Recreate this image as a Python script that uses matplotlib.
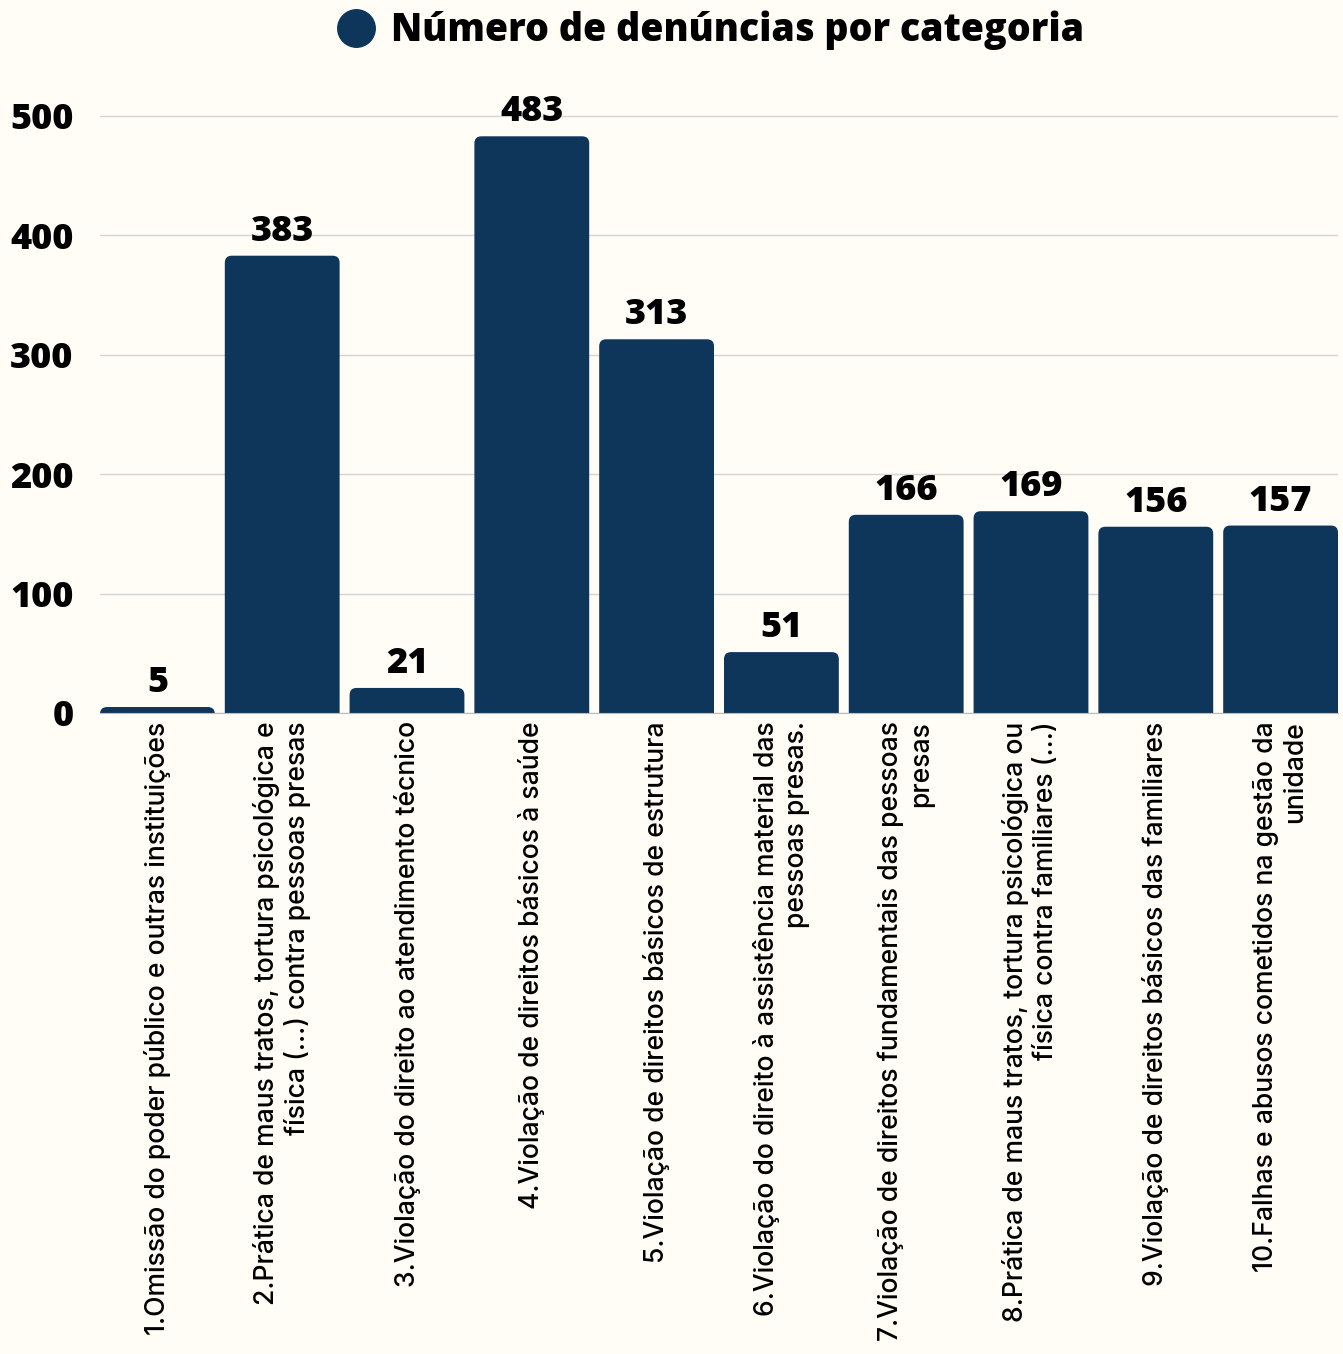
import matplotlib
matplotlib.use("Agg")
import matplotlib.pyplot as plt
from matplotlib.lines import Line2D
from matplotlib.patches import FancyBboxPatch

categories = [
    "1.Omissão do poder público e outras instituições",
    "2.Prática de maus tratos, tortura psicológica e\nfísica (...) contra pessoas presas",
    "3.Violação do direito ao atendimento técnico",
    "4.Violação de direitos básicos à saúde",
    "5.Violação de direitos básicos de estrutura",
    "6.Violação do direito à assistência material das\npessoas presas.",
    "7.Violação de direitos fundamentais das pessoas\npresas",
    "8.Prática de maus tratos, tortura psicológica ou\nfísica contra familiares (...)",
    "9.Violação de direitos básicos das familiares",
    "10.Falhas e abusos cometidos na gestão da\nunidade",
]
denuncias = [5, 383, 21, 483, 313, 51, 166, 169, 156, 157]
yticks = [0, 100, 200, 300, 400, 500]
series_name = "Número de denúncias por categoria"

bg = "#FFFDF6"
navy = "#0E365B"
bold_font = ["Open Sans", "DejaVu Sans"]
label_font = ["Inter", "DejaVu Sans"]
heavy = 800

W, H = 1343, 1354
fig = plt.figure(figsize=(W / 100, H / 100), dpi=100, facecolor=bg)
ax = fig.add_axes([100 / W, 1 - 713 / H, 1238 / W, 613 / H], facecolor=bg)

x = list(range(len(categories)))
ax.set_xlim(-0.46, len(categories) - 0.54)
ax.set_ylim(0, 513.4)

bars = ax.bar(x, denuncias, width=0.92, color=navy)

# swap plain rectangles for ones with slightly rounded tops
xpx = 1238 / (ax.get_xlim()[1] - ax.get_xlim()[0])
ypx = 613 / (ax.get_ylim()[1] - ax.get_ylim()[0])
for b in bars:
    b.set_visible(False)
    r = 7 / xpx
    p = FancyBboxPatch((b.get_x(), -10), b.get_width(), b.get_height() + 10,
                       boxstyle=f"round,pad=0,rounding_size={r}",
                       mutation_aspect=xpx / ypx, facecolor=navy,
                       edgecolor="none", zorder=3)
    ax.add_patch(p)

for xi, v in zip(x, denuncias):
    ax.text(xi, v + 5, str(v), ha="center", va="bottom", fontsize=26,
            fontweight=heavy, family=bold_font, color="black", zorder=4)

ax.set_yticks(yticks)
ax.set_yticklabels([str(t) for t in yticks], fontsize=26, fontweight=heavy,
                   family=bold_font)
ax.yaxis.grid(True, color="#d4d4d4", linewidth=1)
ax.set_axisbelow(True)
ax.tick_params(axis="y", length=0, pad=19)

ax.set_xticks(x)
ax.set_xticklabels(categories, rotation=90, fontsize=19.1, family=label_font,
                   fontweight="medium", va="top", ha="center",
                   multialignment="right")
ax.tick_params(axis="x", length=0, pad=6)

for s in ["top", "right", "left"]:
    ax.spines[s].set_visible(False)
ax.spines["bottom"].set_color("#bbbbbb")
ax.spines["bottom"].set_zorder(5)

handle = Line2D([], [], marker="o", linestyle="none", markersize=27,
                markerfacecolor=navy, markeredgecolor=navy)
fig.legend([handle], [series_name], loc="center", bbox_to_anchor=(0.529, 1 - 30 / H),
           frameon=False, handletextpad=0.45, handlelength=1.0,
           prop={"family": bold_font, "weight": heavy, "size": 27})

fig.savefig("out.png", dpi=100, facecolor=bg)
